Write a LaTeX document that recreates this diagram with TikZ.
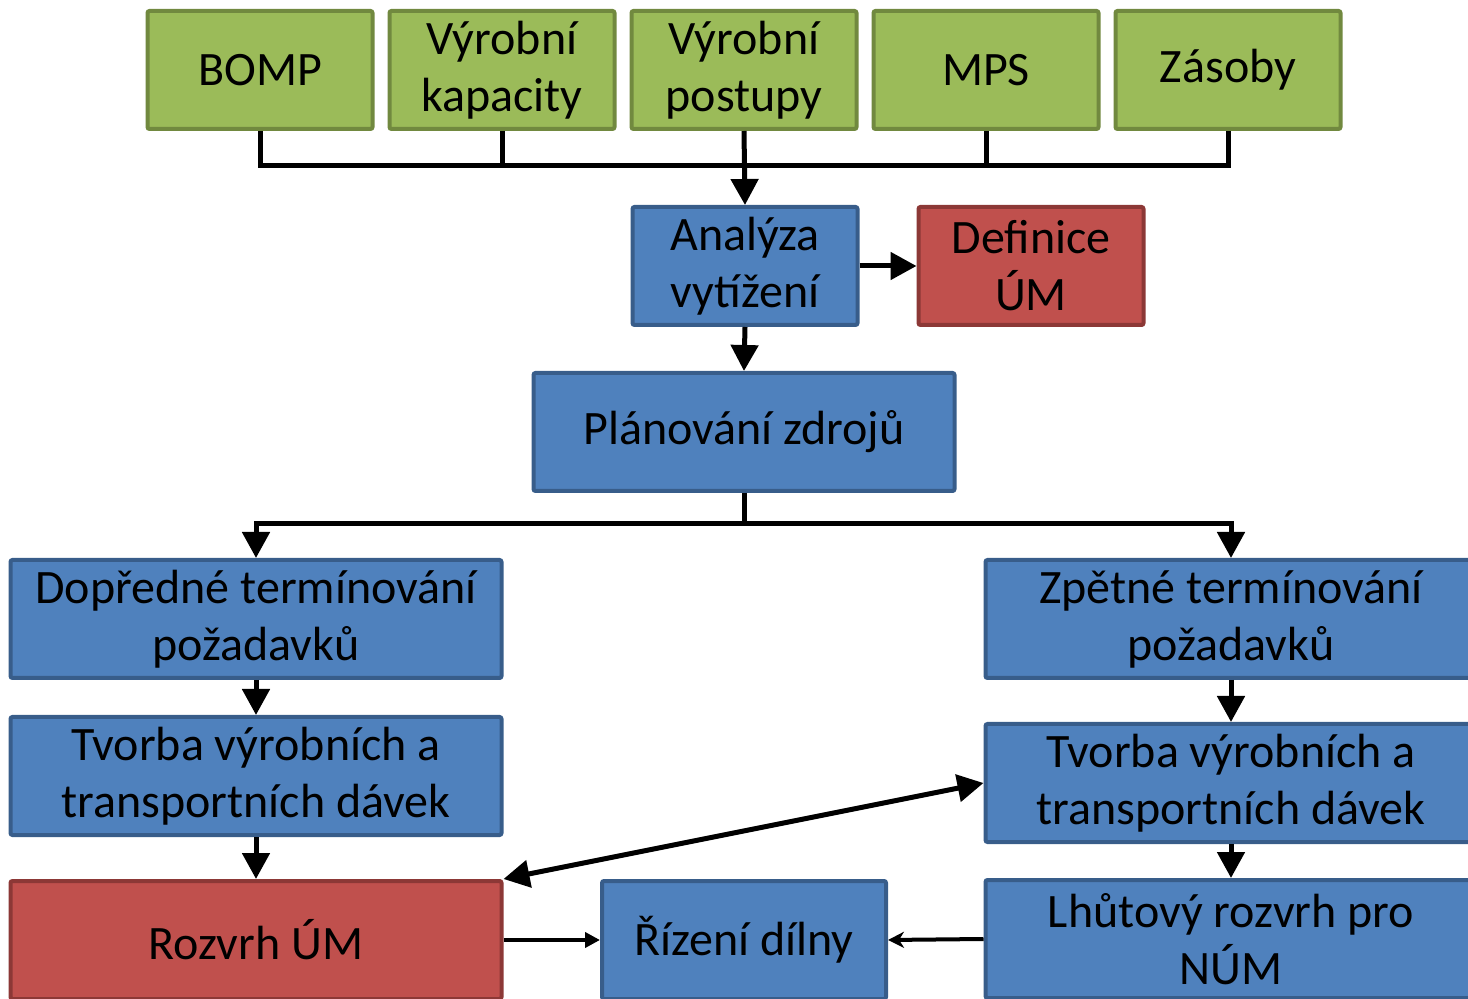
\documentclass[tikz,border=0pt]{standalone}
\usepackage{fontspec}
\setmainfont{Carlito}
\usepackage{tikz}
\usetikzlibrary{arrows.meta}

\definecolor{zelena}{HTML}{9BBB59}
\definecolor{zelenaokraj}{HTML}{71893F}
\definecolor{modra}{HTML}{4F81BD}
\definecolor{modraokraj}{HTML}{385D8A}
\definecolor{cervena}{HTML}{C0504D}
\definecolor{cervenaokraj}{HTML}{8C3836}

\begin{document}
\begin{tikzpicture}[x=0.5pt,y=-0.5pt,
  > = {Triangle[length=13pt,width=13.5pt]},
  box/.style={draw,line width=2pt,rounded corners=1pt,align=center,inner sep=0pt,
    minimum width=112.5pt,minimum height=59pt,font=\fontsize{24}{28.5}\selectfont},
  zel/.style={box,fill=zelena,draw=zelenaokraj},
  mod/.style={box,fill=modra,draw=modraokraj},
  cer/.style={box,fill=cervena,draw=cervenaokraj},
  siroky/.style={minimum width=245.5pt},
  spoj/.style={line width=2.5pt},
  maly/.style={line width=2pt,-{Triangle[length=7.5pt,width=7.5pt]}}]
\useasboundingbox (0,0) rectangle (1468,999);
\clip (0,0) rectangle (1468,999);

\coordinate (busT) at (744,166);
\coordinate (busB) at (744,524);

% vstupy
\node[zel] (bomp)     at (260,70) {BOMP};
\node[zel] (kapacity) at (502,70) {Výrobní\\kapacity};
\node[zel] (postupy)  at (744,70) {Výrobní\\postupy};
\node[zel] (mps)      at (986,70) {MPS};
\node[zel] (zasoby)   at (1228,70) {Zásoby};

\node[mod] (analyza)  at (745,266) {Analýza\\vytížení};
\node[cer] (definice) at (1031,266) {Definice\\ÚM};
\node[mod,minimum width=210.5pt] (planovani) at (744,432) {Plánování zdrojů};

\node[mod,siroky] (dopredne) at (256,619) {Dopředné termínování\\požadavků};
\node[mod,siroky] (zpetne)   at (1231,619) {Zpětné termínování\\požadavků};
\node[mod,siroky] (tvorbaL)  at (256,776) {Tvorba výrobních a\\transportních dávek};
\node[mod,siroky] (tvorbaR)  at (1231,783) {Tvorba výrobních a\\transportních dávek};
\node[cer,siroky] (rozvrh)   at (256,940) {Rozvrh ÚM};
\node[mod,minimum width=142pt] (rizeni) at (744,940) {Řízení dílny};
\node[mod,siroky] (lhutovy)  at (1231,939) {Lhůtový rozvrh pro\\NÚM};

% sbernice nahore
\draw[spoj] (bomp.south) |- (busT) -| (zasoby.south);
\draw[spoj] (kapacity.south) -- (kapacity.south |- busT);
\draw[spoj] (mps.south) -- (mps.south |- busT);
\draw[spoj,->] (postupy.south) -- (analyza.north);

\draw[spoj,->] (analyza.east) -- (definice.west);
\draw[spoj,->] (analyza.south) -- (planovani.north);

% sbernice dole
\draw[spoj,->] (planovani.south) -- (busB) -| (dopredne.north);
\draw[spoj,->] (busB) -| (zpetne.north);

\draw[spoj,->] (dopredne.south) -- (tvorbaL.north);
\draw[spoj,->] (tvorbaL.south) -- (rozvrh.north);
\draw[spoj,->] (zpetne.south) -- (tvorbaR.north);
\draw[spoj,->] (tvorbaR.south) -- (lhutovy.north);

\draw[spoj,<->] (rozvrh.north east) -- (tvorbaR.west);
\draw[maly] (rozvrh.east) -- (rizeni.west);
\draw[line width=2pt,-{Stealth[length=8pt,width=8pt,inset=2.5pt]}] (lhutovy.west) -- (rizeni.east);
\end{tikzpicture}
\end{document}
